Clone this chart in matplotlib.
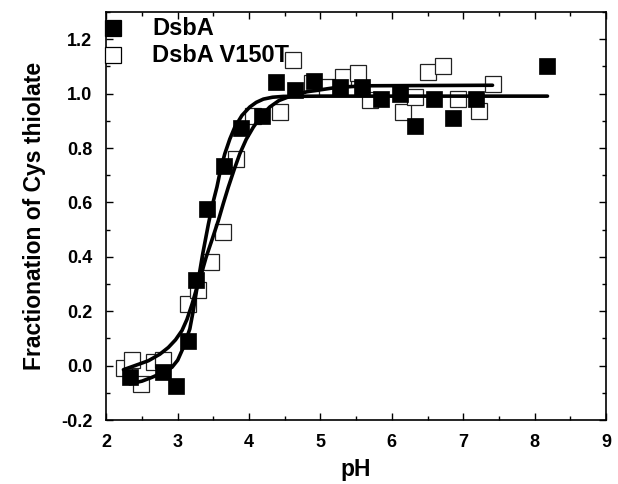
import matplotlib
matplotlib.use("Agg")
import matplotlib.pyplot as plt
from matplotlib.ticker import MultipleLocator

# --- data ---
dsba_ph = [2.33, 2.80, 2.97, 3.15, 3.26, 3.41, 3.65, 3.88, 4.18, 4.38, 4.64, 4.91,
           5.27, 5.58, 5.85, 6.11, 6.33, 6.59, 6.85, 7.18, 8.18]
dsba_frac = [-0.040, -0.025, -0.076, 0.090, 0.316, 0.575, 0.735, 0.872, 0.918, 1.043,
             1.015, 1.048, 1.025, 1.025, 0.980, 0.998, 0.880, 0.980, 0.909, 0.982, 1.100]

v150t_ph = [2.25, 2.36, 2.48, 2.67, 2.79, 3.15, 3.29, 3.47, 3.64, 3.81, 4.06, 4.43,
            4.62, 4.88, 5.09, 5.31, 5.53, 5.69, 6.16, 6.32, 6.51, 6.72, 6.93, 7.22, 7.41]
v150t_frac = [-0.009, 0.021, -0.067, 0.012, 0.022, 0.227, 0.279, 0.380, 0.490, 0.760,
              0.918, 0.933, 1.123, 1.040, 1.025, 1.062, 1.077, 0.978, 0.932, 0.986,
              1.080, 1.100, 0.980, 0.936, 1.035]

# fitted curves, points
dsba_fit_ph = [2.33, 2.50, 2.64, 2.80, 2.92, 3.00, 3.08, 3.17, 3.22, 3.27, 3.35, 3.43,
               3.49, 3.55, 3.60, 3.66, 3.73, 3.80, 3.90, 4.01, 4.10, 4.20, 4.33, 4.48,
               5.00, 8.18]
dsba_fit_frac = [-0.067, -0.057, -0.043, -0.025, -0.006, 0.020, 0.067, 0.135, 0.205,
                 0.285, 0.410, 0.520, 0.595, 0.657, 0.720, 0.779, 0.833, 0.877, 0.920,
                 0.951, 0.968, 0.980, 0.987, 0.990, 0.991, 0.991]

v150t_fit_ph = [2.24, 2.40, 2.59, 2.75, 2.87, 2.97, 3.06, 3.13, 3.20, 3.27, 3.34, 3.40,
                3.49, 3.57, 3.64, 3.71, 3.79, 3.87, 3.96, 4.06, 4.17, 4.29, 4.42, 4.57,
                4.81, 5.20, 5.60, 7.41]
v150t_fit_frac = [-0.015, 0.000, 0.018, 0.042, 0.067, 0.095, 0.129, 0.170, 0.225, 0.288,
                  0.345, 0.400, 0.470, 0.534, 0.597, 0.657, 0.720, 0.779, 0.832, 0.877,
                  0.918, 0.951, 0.975, 0.990, 1.007, 1.022, 1.029, 1.031]

series_labels = ["DsbA", "DsbA V150T"]
x_label = "pH"
y_label = "Fractionation of Cys thiolate"

plt.rcParams['font.family'] = ['Liberation Sans', 'DejaVu Sans']
plt.rcParams['font.weight'] = 'bold'

fig = plt.figure(figsize=(6.18, 4.84), dpi=100)
ax = fig.add_axes([0.172, 0.1322, 0.8086, 0.8428])

ms = 11
ax.plot(v150t_ph, v150t_frac, linestyle='none', marker='s', markersize=ms,
        markerfacecolor='white', markeredgecolor='#222222', markeredgewidth=0.9, zorder=3)
ax.plot(dsba_ph, dsba_frac, linestyle='none', marker='s', markersize=ms,
        markerfacecolor='black', markeredgecolor='black', markeredgewidth=0.5, zorder=4)
ax.plot(dsba_fit_ph, dsba_fit_frac, color='black', linewidth=2.6, zorder=5,
        solid_capstyle='round', solid_joinstyle='round')
ax.plot(v150t_fit_ph, v150t_fit_frac, color='black', linewidth=2.6, zorder=5,
        solid_capstyle='round', solid_joinstyle='round')

ax.set_xlim(2, 9)
ax.set_ylim(-0.2, 1.3)
ax.xaxis.set_major_locator(MultipleLocator(1))
ax.xaxis.set_minor_locator(MultipleLocator(0.5))
ax.yaxis.set_major_locator(MultipleLocator(0.2))
ax.yaxis.set_minor_locator(MultipleLocator(0.1))
ax.yaxis.set_major_formatter(matplotlib.ticker.FormatStrFormatter('%.1f'))

ax.tick_params(which='both', direction='in', top=True, right=True,
               labeltop=False, labelright=False, width=1.0)
ax.tick_params(which='major', length=5, labelsize=13, pad=10)
ax.tick_params(which='minor', length=3)
for lab in ax.get_xticklabels() + ax.get_yticklabels():
    lab.set_fontweight('bold')
for sp in ax.spines.values():
    sp.set_linewidth(1.2)

ax.set_xlabel(x_label, fontsize=16.5, fontweight='bold', labelpad=5)
ax.set_ylabel(y_label, fontsize=16.5, fontweight='bold', labelpad=11)

# legend (manual, matching reference placement)
leg_y = [1.241, 1.142]
face = ['black', 'white']
for yy, fc, lab in zip(leg_y, face, series_labels):
    ax.plot([2.095], [yy], linestyle='none', marker='s', markersize=ms,
            markerfacecolor=fc, markeredgecolor='black', markeredgewidth=0.9,
            clip_on=False, zorder=6)
    ax.text(2.64, yy, lab, fontsize=17, fontweight='bold', va='center', ha='left')

fig.savefig("out.png", dpi=100)
